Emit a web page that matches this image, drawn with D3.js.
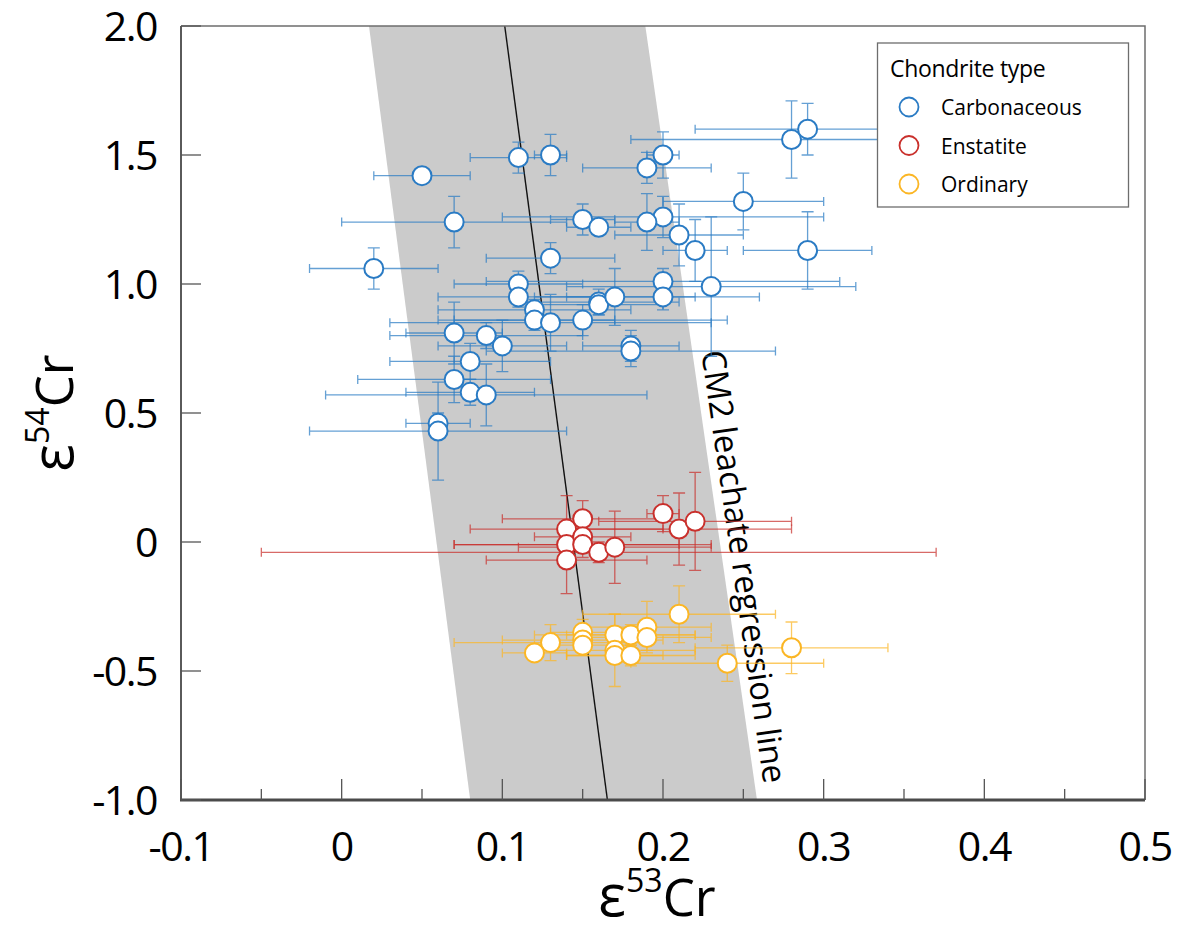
<!DOCTYPE html>
<html>
<head>
<meta charset="utf-8">
<script src="https://cdn.jsdelivr.net/npm/d3@7/dist/d3.min.js"></script>
<style>
  html, body { margin: 0; padding: 0; background: #fff; }
  svg { display: block; font-family: "Open Sans", "Noto Sans", sans-serif; }
</style>
</head>
<body>
<svg id="chart" width="1180" height="930"></svg>
<script>
// rows: [e53Cr, e54Cr, x error, y error]
const carbonaceous = [
  [0.05, 1.42, 0.03, 0.01], [0.11, 1.49, 0.03, 0.06], [0.13, 1.50, 0.01, 0.08],
  [0.07, 1.24, 0.07, 0.10], [0.02, 1.06, 0.04, 0.08], [0.13, 1.10, 0.04, 0.06],
  [0.11, 1.00, 0.04, 0.05], [0.28, 1.56, 0.10, 0.15], [0.29, 1.60, 0.07, 0.10],
  [0.20, 1.50, 0.01, 0.09], [0.19, 1.45, 0.04, 0.06], [0.25, 1.32, 0.05, 0.11],
  [0.20, 1.26, 0.10, 0.08], [0.19, 1.24, 0.02, 0.11], [0.15, 1.25, 0.02, 0.06],
  [0.16, 1.22, 0.02, 0.02], [0.21, 1.19, 0.04, 0.12], [0.22, 1.13, 0.02, 0.12],
  [0.29, 1.13, 0.04, 0.15], [0.23, 0.99, 0.09, 0.27], [0.20, 1.01, 0.11, 0.05],
  [0.20, 0.95, 0.06, 0.05], [0.16, 0.93, 0.05, 0.05], [0.16, 0.92, 0.04, 0.04],
  [0.17, 0.95, 0.05, 0.11], [0.15, 0.86, 0.09, 0.06], [0.18, 0.76, 0.03, 0.06],
  [0.18, 0.74, 0.09, 0.06], [0.11, 0.95, 0.05, 0.04], [0.12, 0.90, 0.06, 0.04],
  [0.12, 0.86, 0.05, 0.04], [0.13, 0.85, 0.10, 0.11], [0.07, 0.81, 0.03, 0.12],
  [0.09, 0.80, 0.06, 0.05], [0.10, 0.76, 0.04, 0.10], [0.08, 0.70, 0.05, 0.07],
  [0.07, 0.63, 0.06, 0.09], [0.08, 0.58, 0.04, 0.05], [0.09, 0.57, 0.10, 0.12],
  [0.06, 0.46, 0.02, 0.04], [0.06, 0.43, 0.08, 0.19]
];

const enstatite = [
  [0.14, 0.05, 0.06, 0.13], [0.14, -0.01, 0.07, 0.06], [0.14, -0.07, 0.05, 0.13],
  [0.15, 0.09, 0.05, 0.07], [0.15, 0.02, 0.03, 0.05], [0.15, -0.01, 0.08, 0.05],
  [0.16, -0.04, 0.21, 0.04], [0.17, -0.02, 0.06, 0.14], [0.20, 0.11, 0.01, 0.07],
  [0.21, 0.05, 0.07, 0.14], [0.22, 0.08, 0.06, 0.19]
];

const ordinary = [
  [0.21, -0.28, 0.06, 0.11], [0.13, -0.39, 0.06, 0.07], [0.12, -0.43, 0.02, 0.03],
  [0.15, -0.35, 0.02, 0.05], [0.15, -0.38, 0.05, 0.04], [0.15, -0.40, 0.03, 0.03],
  [0.17, -0.36, 0.05, 0.08], [0.17, -0.42, 0.05, 0.14], [0.17, -0.44, 0.03, 0.03],
  [0.18, -0.36, 0.04, 0.04], [0.18, -0.44, 0.04, 0.04], [0.19, -0.33, 0.04, 0.10],
  [0.19, -0.37, 0.04, 0.05], [0.24, -0.47, 0.06, 0.07], [0.28, -0.41, 0.06, 0.10]
];

// CM2 leachate regression line and its band, as [e53Cr, e54Cr] at top and bottom
const regressionLine = [[0.1015, 2.0], [0.1654, -1.0]];
const bandLeft = [[0.017, 2.0], [0.080, -1.0]];
const bandRight = [[0.189, 2.0], [0.2585, -1.0]];

const xTicks = [-0.1, 0, 0.1, 0.2, 0.3, 0.4, 0.5];
const xTickLabels = ["-0.1", "0", "0.1", "0.2", "0.3", "0.4", "0.5"];
const xMinorTicks = [-0.05, 0.05, 0.15, 0.25, 0.35, 0.45];
const yTicks = [2.0, 1.5, 1.0, 0.5, 0, -0.5, -1.0];
const yTickLabels = ["2.0", "1.5", "1.0", "0.5", "0", "-0.5", "-1.0"];

const groups = [
  { name: "Carbonaceous", rows: carbonaceous, color: "#2a7bc4" },
  { name: "Enstatite", rows: enstatite, color: "#c9302c" },
  { name: "Ordinary", rows: ordinary, color: "#fbb625" }
];

const svg = d3.select("#chart");
const m = { left: 181, right: 1145, top: 26, bottom: 800 };

const x = d3.scaleLinear().domain([-0.1, 0.5]).range([m.left, m.right]);
const y = d3.scaleLinear().domain([-1.0, 2.0]).range([m.bottom, m.top]);
const line = d3.line().x((d) => x(d[0])).y((d) => y(d[1]));

const plot = svg.append("g");

// shaded band
plot.append("path")
  .attr("d", line(bandLeft.concat(bandRight.slice().reverse())) + "Z")
  .attr("fill", "#cbcbcb");

plot.append("path")
  .attr("d", line(regressionLine))
  .attr("stroke", "#111").attr("stroke-width", 1.4).attr("fill", "none");

// band label, set along the right edge of the band
const edgeTop = [x(bandRight[0][0]), y(bandRight[0][1])];
const edgeBot = [x(bandRight[1][0]), y(bandRight[1][1])];
const edgeAngle = Math.atan2(edgeBot[1] - edgeTop[1], edgeBot[0] - edgeTop[0]) * 180 / Math.PI;
const ly = 352;
const lx = edgeTop[0] + (ly - edgeTop[1]) / (edgeBot[1] - edgeTop[1]) * (edgeBot[0] - edgeTop[0]) + 9;
plot.append("text")
  .attr("transform", `translate(${lx},${ly}) rotate(${edgeAngle})`)
  .attr("font-size", 33)
  .attr("letter-spacing", -0.2)
  .attr("fill", "#000")
  .text("CM2 leachate regression line");

// error bars then circles per group
const capX = 4.5, capY = 6;
groups.forEach((g) => {
  const eb = plot.append("g")
    .attr("stroke", g.color)
    .attr("stroke-width", 1.3)
    .attr("stroke-opacity", 0.72)
    .attr("fill", "none");
  g.rows.forEach(([vx, vy, ex, ey]) => {
    const cx = x(vx), cy = y(vy);
    const xl = x(vx - ex), xr = x(vx + ex);
    const yt = y(vy + ey), yb = y(vy - ey);
    eb.append("path").attr("d",
      `M${xl},${cy}H${xr}M${xl},${cy - capX}V${cy + capX}M${xr},${cy - capX}V${cy + capX}` +
      `M${cx},${yt}V${yb}M${cx - capY},${yt}H${cx + capY}M${cx - capY},${yb}H${cx + capY}`);
  });
});
groups.forEach((g) => {
  plot.append("g").selectAll("circle")
    .data(g.rows)
    .join("circle")
    .attr("cx", (d) => x(d[0]))
    .attr("cy", (d) => y(d[1]))
    .attr("r", 9.5)
    .attr("fill", "#fff")
    .attr("stroke", g.color)
    .attr("stroke-width", 2);
});

// frame
svg.append("path")
  .attr("d", `M${m.left},${m.top}H${m.right}V${m.bottom}`)
  .attr("fill", "none").attr("stroke", "#6d6d6d").attr("stroke-width", 1.5);
svg.append("line")
  .attr("x1", m.left).attr("x2", m.left).attr("y1", m.top).attr("y2", m.bottom)
  .attr("stroke", "#5a5a5a").attr("stroke-width", 2);
svg.append("line")
  .attr("x1", m.left - 1).attr("x2", m.right).attr("y1", m.bottom).attr("y2", m.bottom)
  .attr("stroke", "#4a4a4a").attr("stroke-width", 3);

// ticks (inward)
const ticks = svg.append("g").attr("stroke", "#555").attr("stroke-width", 1.3);
xTicks.forEach((t) => {
  ticks.append("line").attr("x1", x(t)).attr("x2", x(t)).attr("y1", m.bottom).attr("y2", m.bottom - 21);
});
xMinorTicks.forEach((t) => {
  ticks.append("line").attr("x1", x(t)).attr("x2", x(t)).attr("y1", m.bottom).attr("y2", m.bottom - 11);
});
yTicks.forEach((t) => {
  ticks.append("line").attr("x1", m.left).attr("x2", m.left + 20).attr("y1", y(t)).attr("y2", y(t));
});

// tick labels
svg.append("g").selectAll("text")
  .data(xTicks)
  .join("text")
  .attr("x", (d) => x(d))
  .attr("y", 861)
  .attr("text-anchor", "middle")
  .attr("font-size", 41)
  .attr("letter-spacing", -1.5)
  .text((d, i) => xTickLabels[i]);

svg.append("g").selectAll("text")
  .data(yTicks)
  .join("text")
  .attr("x", 157)
  .attr("y", (d) => y(d))
  .attr("dy", "0.36em")
  .attr("text-anchor", "end")
  .attr("font-size", 41)
  .attr("letter-spacing", -1.5)
  .text((d, i) => yTickLabels[i]);

// axis titles
function axisTitle(sel, sup) {
  sel.append("tspan").attr("font-size", 58).text("ε");
  sel.append("tspan").attr("font-size", 32).attr("dy", -24).text(sup);
  sel.append("tspan").attr("dy", 24).text("Cr");
}
axisTitle(svg.append("text")
  .attr("x", 657).attr("y", 916)
  .attr("text-anchor", "middle")
  .attr("font-size", 51), "53");

axisTitle(svg.append("text")
  .attr("transform", "translate(73,413) rotate(-90)")
  .attr("text-anchor", "middle")
  .attr("font-size", 51), "54");

// legend
const legend = svg.append("g");
legend.append("rect")
  .attr("x", 877.5).attr("y", 43).attr("width", 251).attr("height", 164)
  .attr("fill", "#fff").attr("stroke", "#6d6d6d").attr("stroke-width", 1.3);
legend.append("text")
  .attr("x", 890).attr("y", 77)
  .attr("font-size", 23)
  .attr("letter-spacing", -0.3)
  .text("Chondrite type");
groups.forEach((g, i) => {
  const cy = 107 + i * 38.5;
  legend.append("circle")
    .attr("cx", 909).attr("cy", cy).attr("r", 9.5)
    .attr("fill", "#fff").attr("stroke", g.color).attr("stroke-width", 1.8);
  legend.append("text")
    .attr("x", 941).attr("y", cy + 8)
    .attr("font-size", 21)
    .text(g.name);
});
</script>
</body>
</html>
